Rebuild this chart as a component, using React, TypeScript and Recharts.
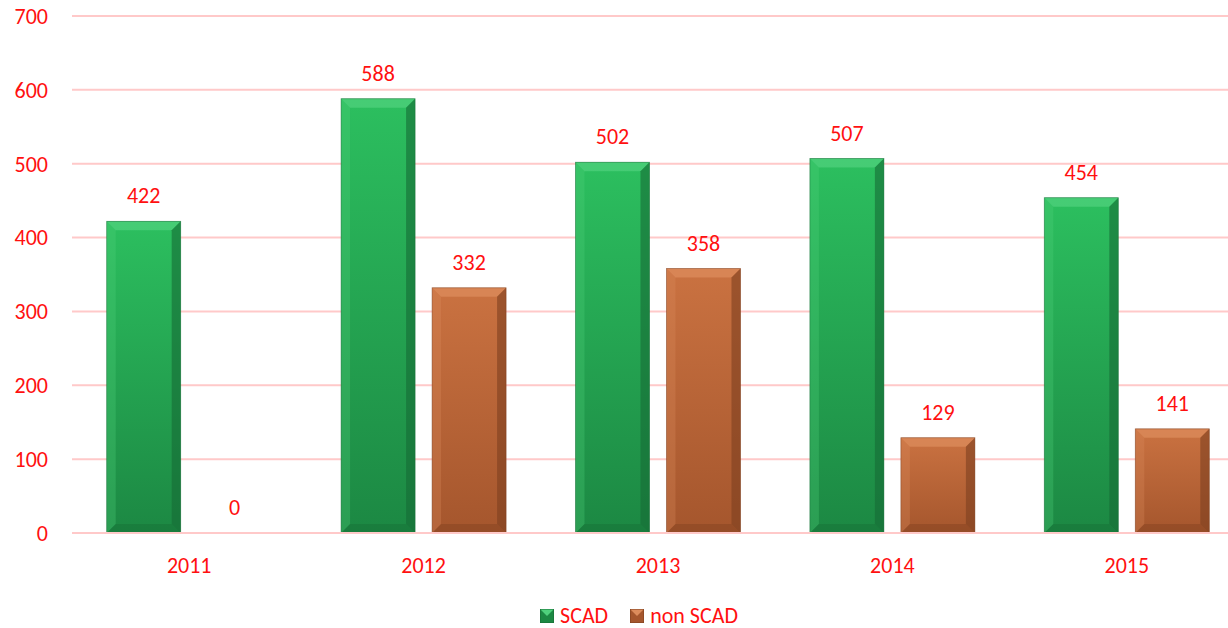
import { Bar, BarChart, CartesianGrid, LabelList, Legend, XAxis, YAxis } from 'recharts'

const years = ['2011', '2012', '2013', '2014', '2015']
const scad = [422, 588, 502, 507, 454]
const nonScad = [0, 332, 358, 129, 141]
const yTicks = [0, 100, 200, 300, 400, 500, 600, 700]

const data = years.map((year, i) => ({ year, scad: scad[i], nonScad: nonScad[i] }))

const FONT = 'Calibri, Carlito, Lato, "Open Sans", sans-serif'
const RED = '#ff1010'

const palette = {
  scad: { top: '#2cbf5f', bottom: '#1c8843', light: '#4fd07c', dark: '#166b35', name: 'SCAD' },
  nonScad: { top: '#ca7241', bottom: '#a5562d', light: '#dc8c5c', dark: '#7d3f1f', name: 'non SCAD' },
}

type Key = keyof typeof palette

function BevelBar(props: any, key: Key) {
  const { x, y, width, height } = props
  if (!height || height <= 0) return <g />
  const p = palette[key]
  const b = Math.min(9, height / 3)
  return (
    <g>
      <rect x={x} y={y} width={width} height={height} fill={`url(#grad-${key})`} />
      <polygon points={`${x},${y} ${x + width},${y} ${x + width - b},${y + b} ${x + b},${y + b}`} fill={p.light} opacity={0.75} />
      <polygon points={`${x},${y} ${x + b},${y + b} ${x + b},${y + height - b} ${x},${y + height}`} fill={p.light} opacity={0.3} />
      <polygon points={`${x + width},${y} ${x + width},${y + height} ${x + width - b},${y + height - b} ${x + width - b},${y + b}`} fill={p.dark} opacity={0.6} />
      <polygon points={`${x},${y + height} ${x + b},${y + height - b} ${x + width - b},${y + height - b} ${x + width},${y + height}`} fill={p.dark} opacity={0.4} />
      <rect x={x} y={y} width={width} height={height} fill="none" stroke={p.dark} strokeWidth={0.8} opacity={0.6} />
    </g>
  )
}

function LegendContent() {
  return (
    <div style={{ display: 'flex', justifyContent: 'center', gap: 22, fontFamily: FONT, fontSize: 22, color: RED, paddingLeft: 34, height: 24, lineHeight: '24px' }}>
      {(['scad', 'nonScad'] as Key[]).map((k) => (
        <div key={k} style={{ display: 'flex', alignItems: 'center', gap: 6 }}>
          <svg width={14} height={14}>
            <rect x={0} y={0} width={14} height={14} fill={palette[k].bottom} />
            <polygon points="0,0 14,0 7,7" fill={palette[k].light} />
            <rect x={0} y={0} width={14} height={14} fill="none" stroke={palette[k].dark} strokeWidth={1} />
          </svg>
          <span>{palette[k].name}</span>
        </div>
      ))}
    </div>
  )
}

export default function App() {
  return (
    <div style={{ position: 'absolute', left: 0, top: 0, width: 1228, height: 628, overflow: 'hidden', background: '#fff' }}>
      <BarChart
        width={1244}
        height={628}
        data={data}
        margin={{ top: 16, right: 0, left: 0, bottom: 0 }}
        barCategoryGap="14.8%"
        barGap={17}
      >
        <defs>
          {(['scad', 'nonScad'] as Key[]).map((k) => (
            <linearGradient key={k} id={`grad-${k}`} x1="0" y1="0" x2="0" y2="1">
              <stop offset="0%" stopColor={palette[k].top} />
              <stop offset="100%" stopColor={palette[k].bottom} />
            </linearGradient>
          ))}
        </defs>
        <CartesianGrid vertical={false} stroke="#ffc9c9" strokeWidth={2} />
        <XAxis
          dataKey="year"
          axisLine={{ stroke: '#ffc9c9', strokeWidth: 2 }}
          tickLine={false}
          tickSize={0}
          tickMargin={24}
          height={71}
          tick={{ fill: RED, fontSize: 22, fontFamily: FONT }}
        />
        <YAxis
          domain={[0, 700]}
          ticks={yTicks}
          width={72}
          axisLine={false}
          tickLine={false}
          tickSize={0}
          tickMargin={24}
          tick={{ fill: RED, fontSize: 22, fontFamily: FONT }}
        />
        <Legend verticalAlign="bottom" height={24} content={<LegendContent />} />
        <Bar dataKey="scad" name="SCAD" isAnimationActive={false} shape={(p: any) => BevelBar(p, 'scad')}>
          <LabelList dataKey="scad" position="top" offset={18} fill={RED} fontSize={22} fontFamily={FONT} />
        </Bar>
        <Bar dataKey="nonScad" name="non SCAD" isAnimationActive={false} shape={(p: any) => BevelBar(p, 'nonScad')}>
          <LabelList dataKey="nonScad" position="top" offset={18} fill={RED} fontSize={22} fontFamily={FONT} />
        </Bar>
      </BarChart>
    </div>
  )
}
